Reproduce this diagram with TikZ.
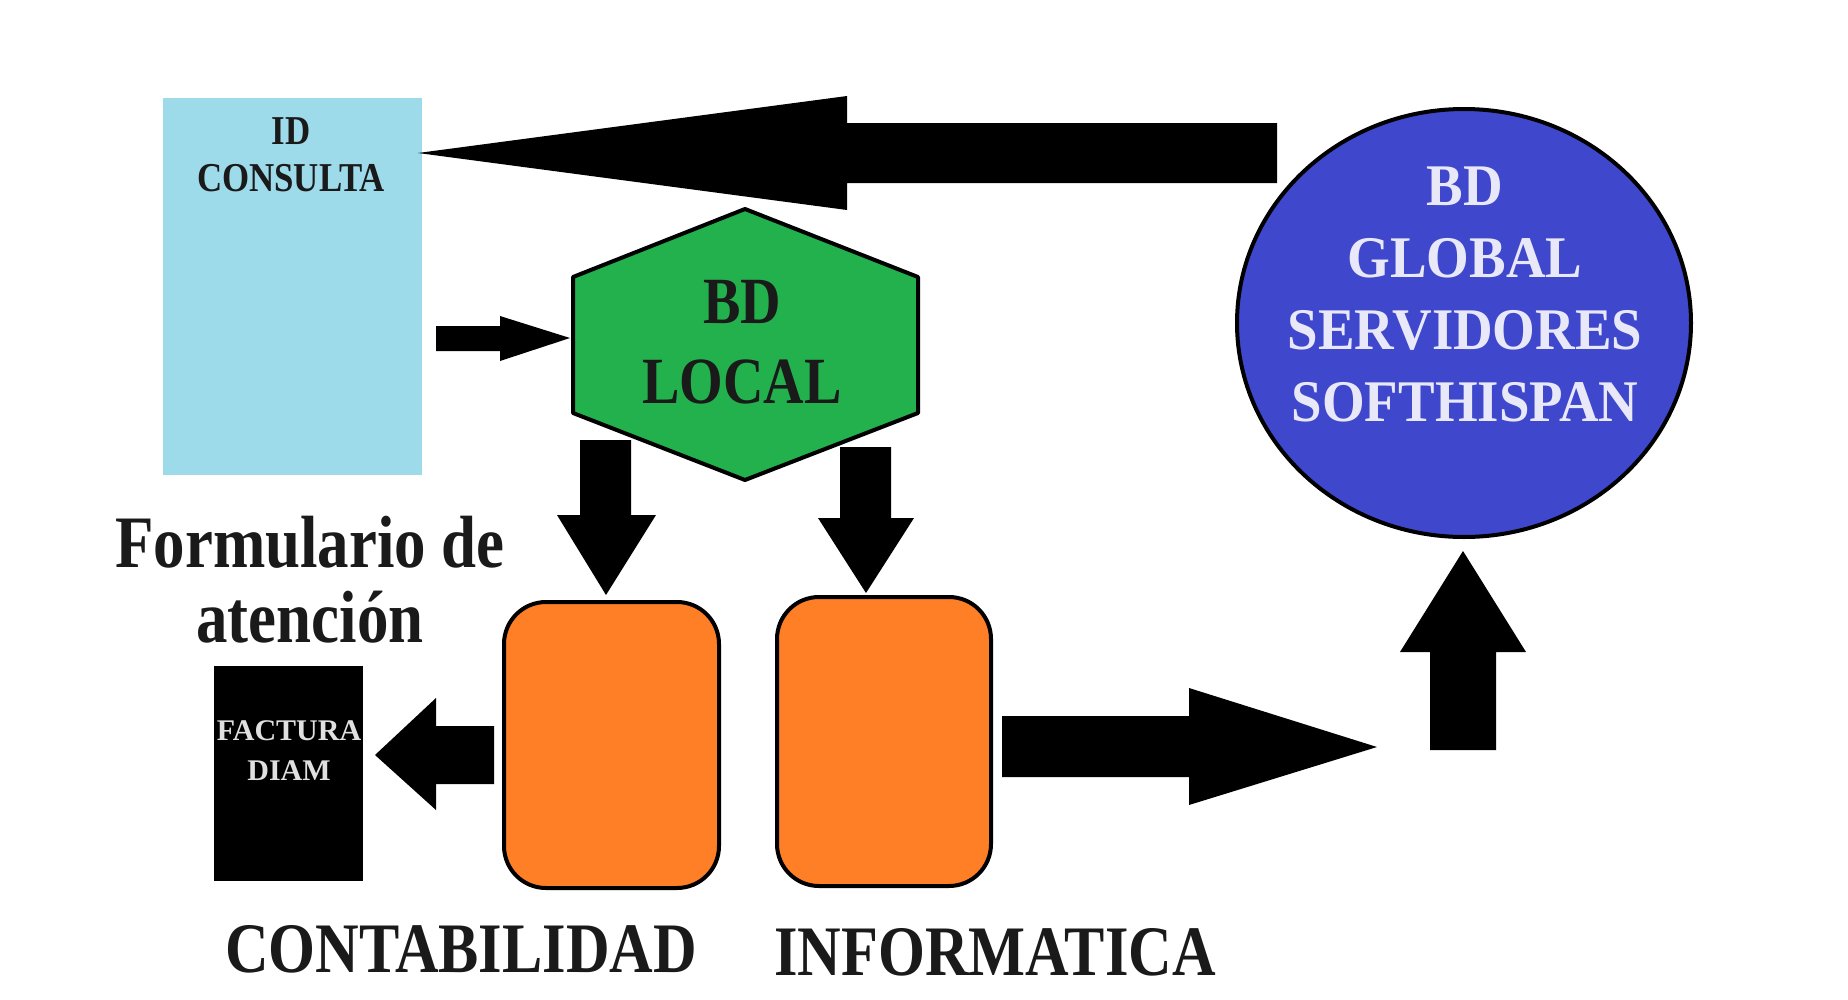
\documentclass[tikz,border=0pt]{standalone}
\usepackage{fontspec}
\newfontfamily\cfont{Liberation Serif}[FakeStretch=0.85]
\newfontfamily\wfont{Liberation Serif}[FakeStretch=0.93]
\newfontfamily\nfont{Liberation Serif}
\definecolor{idblue}{HTML}{9DDAEA}
\definecolor{hexgreen}{HTML}{22B14C}
\definecolor{boxorange}{HTML}{FF7F27}
\definecolor{globeblue}{HTML}{3F48CC}
\definecolor{globetext}{HTML}{E8E8F8}
\definecolor{facttext}{HTML}{E0E0E0}
\definecolor{ink}{HTML}{1A1A1A}
\begin{document}
\begin{tikzpicture}[x=1pt,y=-1pt,
  blockarrow/.style={fill=black},
  outlined/.style={draw=black,line width=4pt,line join=round},
  lbl/.style={inner sep=0pt,anchor=north,align=center,text=ink},
]
\fill[white] (0,0) rectangle (1848,999);
\useasboundingbox (0,0) rectangle (1848,999);

% shapes
\fill[idblue] (163,98) rectangle (422,475);
\draw[outlined,fill=hexgreen] (745,209) -- (918,277) -- (918,413) -- (745,480) -- (573,413) -- (573,277) -- cycle;
\draw[outlined,fill=globeblue] (1464,323) ellipse [x radius=227, y radius=214];
\draw[outlined,fill=boxorange,rounded corners=42pt] (504,602) rectangle (719,888);
\draw[outlined,fill=boxorange,rounded corners=42pt] (777,597) rectangle (991,886);
\fill[black] (214,666) rectangle (363,881);

% block arrows
% global -> id consulta
\fill[blockarrow] (1277,123) -- (847,123) -- (847,96) -- (418,153) -- (847,210) -- (847,183) -- (1277,183) -- cycle;
% id consulta -> bd local
\fill[blockarrow] (436,326) -- (500,326) -- (500,316) -- (570,338) -- (500,361) -- (500,351) -- (436,351) -- cycle;
% bd local -> contabilidad
\fill[blockarrow] (580,440) -- (631,440) -- (631,515) -- (656,515) -- (606,595) -- (557,515) -- (580,515) -- cycle;
% bd local -> informatica
\fill[blockarrow] (840,447) -- (891,447) -- (891,518) -- (914,518) -- (866,593) -- (818,518) -- (840,518) -- cycle;
% contabilidad -> factura
\fill[blockarrow] (494,726) -- (436,726) -- (436,698) -- (375,755) -- (436,810) -- (436,784) -- (494,784) -- cycle;
% informatica -> right
\fill[blockarrow] (1002,716) -- (1189,716) -- (1189,688) -- (1377,747) -- (1189,805) -- (1189,777) -- (1002,777) -- cycle;
% up -> global
\fill[blockarrow] (1430,750) -- (1430,652) -- (1400,652) -- (1463,551) -- (1526,652) -- (1496,652) -- (1496,750) -- cycle;

% texts
\node[lbl,font={\cfont\bfseries\fontsize{41}{47}\selectfont}] (idtxt) at (291,117) {ID\\CONSULTA};
\node[lbl,font={\cfont\bfseries\fontsize{66}{80}\selectfont}] (bdlocal) at (742,280) {BD\\LOCAL};
\node[lbl,text=globetext,font={\wfont\bfseries\fontsize{59}{72}\selectfont}] (bdglobal) at (1465,167) {BD\\GLOBAL\\SERVIDORES\\SOFTHISPAN};
\node[lbl,font={\cfont\bfseries\fontsize{74}{75}\selectfont}] (form) at (310,516) {Formulario de\\atención};
\node[lbl,text=facttext,font={\nfont\bfseries\fontsize{30}{40}\selectfont}] (factura) at (289,720) {FACTURA\\DIAM};
\node[lbl,font={\cfont\bfseries\fontsize{71}{80}\selectfont}] (conta) at (461,925) {CONTABILIDAD};
\node[lbl,font={\cfont\bfseries\fontsize{71}{80}\selectfont}] (info) at (995,928) {INFORMATICA};
\end{tikzpicture}
\end{document}
